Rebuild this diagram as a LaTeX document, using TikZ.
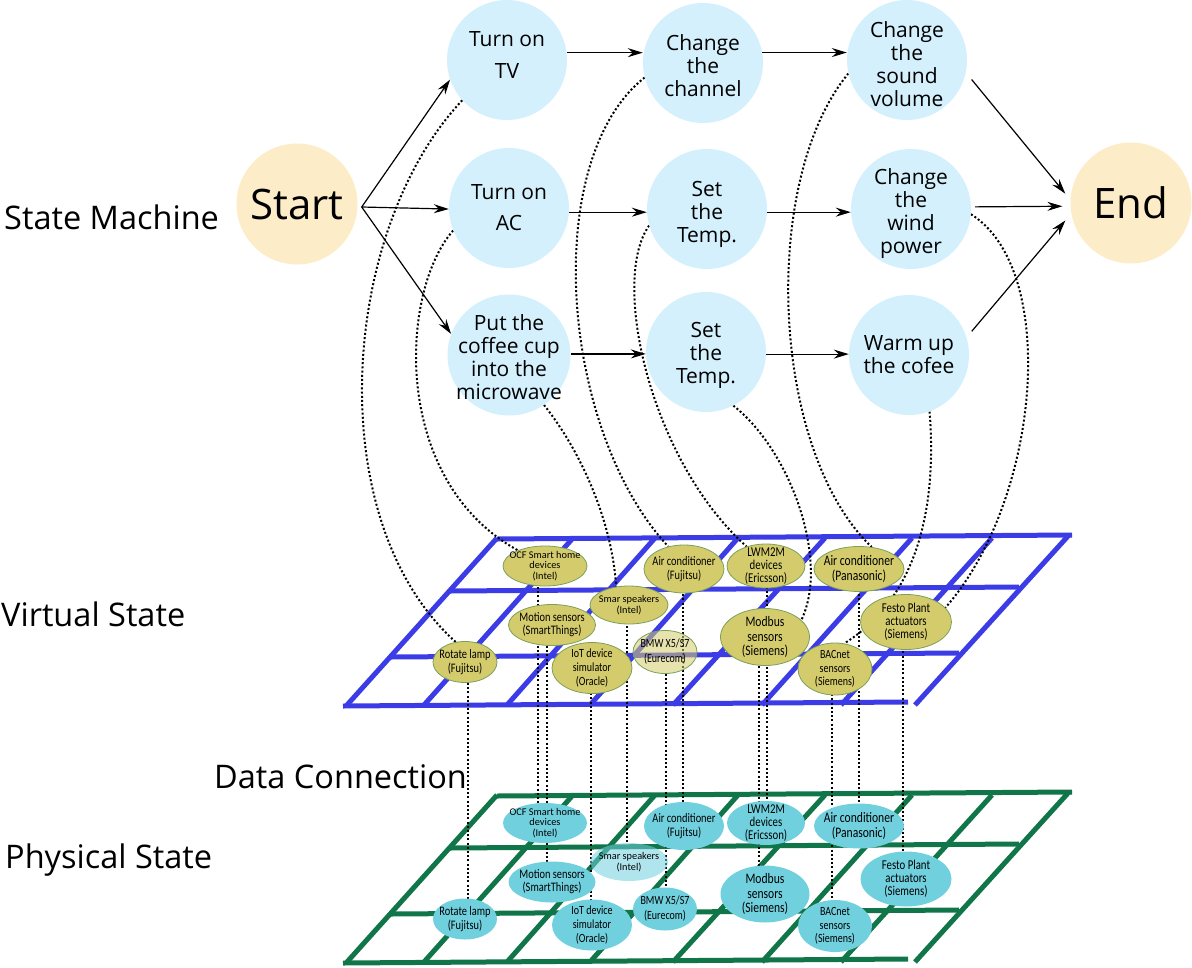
\documentclass[tikz,border=0pt]{standalone}
\usepackage{fontspec}
\setmainfont{Open Sans}
\newfontfamily\calib[FakeStretch=0.8]{Carlito}
\newfontfamily\calibn{Carlito}
\usetikzlibrary{shapes.geometric,arrows.meta,calc}
\definecolor{stfill}{HTML}{D4F0FC}
\definecolor{sefill}{HTML}{FDECC8}
\definecolor{gblue}{HTML}{3C3CE6}
\definecolor{ggreen}{HTML}{107548}
\definecolor{yfill}{HTML}{D4CC6C}
\definecolor{yline}{HTML}{7BA05A}
\definecolor{cfill}{HTML}{71D0DE}
\pgfdeclarelayer{gridlayer}
\pgfdeclarelayer{linelayer}
\pgfsetlayers{gridlayer,linelayer,main}
\tikzset{
  state/.style={circle, fill=stfill, minimum size=120pt, inner sep=0pt},
  stlab/.style={align=center, inner sep=0pt, font=\fontsize{21}{23}\selectfont},
  term/.style={circle, fill=sefill, minimum size=121pt, inner sep=0pt, font=\fontsize{42}{46}\selectfont},
  arr/.style={line width=1.2pt, -{Stealth[length=15pt,width=9pt,inset=5pt]}},
  dots/.style={line width=2pt, dash pattern=on 2pt off 2.2pt},
  lab/.style={anchor=base west, inner sep=0pt, font=\fontsize{32.5}{36}\selectfont},
  gridline/.style={line width=5pt},
  dev/.style={ellipse, inner sep=-14pt, align=center},
  vdev/.style={dev, fill=yfill, draw=yline, line width=0.8pt},
  pdev/.style={dev, fill=cfill},
  ghost/.style={fill opacity=0.55, text opacity=1},
  solid/.style={},
}
\newcommand\devfont[2]{\calib\fontsize{#1}{#2}\selectfont}
\newcommand\devfontn[2]{\calibn\fontsize{#1}{#2}\selectfont}
\newcommand\gridplane[2]{%
  \begin{scope}[shift={(0,#2)}, gridline, draw=#1]
    \draw (497,539) -- (1072,535);
    \draw (450,591) -- (1019,587);
    \draw (391,657) -- (959,653);
    \draw (343,706) -- (908,702);
    \foreach \a/\b in {497/347, 573/424, 655/507, 738/590, 825/673, 912/762, 992/841}
      \draw (\a,538) -- (\b,705);
    \draw (1069,535) -- (915,705);
  \end{scope}}
\newcommand\devlayer[5]{%
  \node[#3, minimum width=84pt, minimum height=40pt, font=\devfontn{10.3}{10.5}] (#1ocf) at (545,566+#2) {OCF Smart home\\devices\\(Intel)};
  \node[#3, minimum width=80pt, minimum height=48pt, font=\devfont{13}{14}] (#1acf) at (684,569+#2) {Air conditioner\\(Fujitsu)};
  \node[#3, minimum width=78pt, minimum height=44pt, font=\devfont{13.5}{13}] (#1lwm) at (766,566+#2) {LWM2M\\devices\\(Ericsson)};
  \node[#3, minimum width=90pt, minimum height=45pt, font=\devfont{14.5}{14.5}] (#1pan) at (859,569+#2) {Air conditioner\\(Panasonic)};
  \node[#3, #4, minimum width=78pt, minimum height=38pt, font=\devfontn{10.3}{10.7}] (#1smar) at (629,605+#2) {Smar speakers\\(Intel)};
  \node[#3, minimum width=87pt, minimum height=41pt, font=\devfont{13}{13}] (#1mot) at (552,625+#2) {Motion sensors\\(SmartThings)};
  \node[#3, minimum width=64pt, minimum height=41pt, font=\devfont{13}{13.7}] (#1rot) at (465,662+#2) {Rotate lamp\\(Fujitsu)};
  \node[#3, minimum width=80pt, minimum height=51pt, font=\devfont{12.5}{14}] (#1iot) at (592,668+#2) {IoT device\\simulator\\(Oracle)};
  \node[#3, #5, minimum width=64pt, minimum height=43pt, font=\devfont{12.5}{15}] (#1bmw) at (665,652+#2) {BMW X5/S7\\(Eurecom)};
  \node[#3, minimum width=89pt, minimum height=57pt, font=\devfont{14.5}{14.3}] (#1mod) at (765,637+#2) {Modbus\\sensors\\(Siemens)};
  \node[#3, minimum width=91pt, minimum height=55pt, font=\devfont{13.5}{13}] (#1fes) at (906,622+#2) {Festo Plant\\actuators\\(Siemens)};
  \node[#3, minimum width=74pt, minimum height=52pt, font=\devfont{12.5}{13.5}] (#1bac) at (835,669+#2) {BACnet\\sensors\\(Siemens)};
}
\begin{document}
\begin{tikzpicture}[x=1pt,y=-1pt]
\useasboundingbox (0,0) rectangle (1192,967);
% left labels
\node[lab] (lsm) at (4,229) {State Machine};
\node[lab] (lvs) at (1,626) {Virtual State};
\node[lab] (ldc) at (214,788) {Data Connection};
\node[lab] (lps) at (5,868) {Physical State};
% state machine
\node[term] (start) at (297,204) {Start};
\node[term] (end) at (1131,203) {End};
\node[state, label={[stlab, yshift=5pt]center:{Turn on\\[9pt]TV}}] (tv) at (507,60) {};
\node[state, label={[stlab, yshift=-3pt]center:{Change\\the\\channel}}] (ch) at (703,63) {};
\node[state, label={[stlab, yshift=-4pt]center:{Change\\the\\sound\\volume}}] (snd) at (907,60) {};
\node[state, label={[stlab]center:{Turn on\\[8pt]AC}}] (ac) at (509,208) {};
\node[state, label={[stlab, yshift=-5pt]center:{Set\\the\\Temp.}}] (st2) at (707,209) {};
\node[state, label={[stlab, yshift=-5pt]center:{Change\\the\\wind\\power}}] (wind) at (911,209) {};
\node[state, ellipse, minimum width=123pt, minimum height=121pt, label={[stlab, yshift=-2pt]center:{Put the\\coffee cup\\into the\\microwave}}] (cof) at (509,355) {};
\node[state, label={[stlab, yshift=-3pt]center:{Set\\the\\Temp.}}] (st3) at (706,352) {};
\node[state, label={[stlab]center:{Warm up\\the cofee}}] (warm) at (909,355) {};
% arrows
\draw[arr] ($(start.east)+(4,3)$) -- (tv.199);
\draw[arr] ($(start.east)+(4,3)$) -- (ac.181);
\draw[arr] ($(start.east)+(4,3)$) -- (cof.160);
\draw[arr] (tv.7) -- (tv.7 -| ch.west);
\draw[arr] (ch.10) -- (ch.10 -| snd.west);
\draw[arr] (ac.-4) -- (ac.-4 -| st2.west);
\draw[arr] (st2.-3) -- (st2.-3 -| wind.west);
\draw[arr] (cof.1) -- (cof.1 -| st3.west);
\draw[arr] (st3.-2) -- (st3.-2 -| warm.west);
\draw[arr, shorten <=9pt, shorten >=8pt] (snd.-12) -- (end.177);
\draw[arr, shorten <=4pt, shorten >=8pt] (wind.2) -- (end.183);
\draw[arr, shorten <=8pt, shorten >=9pt] (warm.17) -- (end.190);
% device layers
\devlayer{v}{0}{vdev}{solid}{ghost}
\devlayer{p}{257}{pdev}{ghost}{solid}
% grids
\begin{pgfonlayer}{gridlayer}
  \gridplane{gblue}{0}
  \gridplane{ggreen}{257}
\end{pgfonlayer}
% dotted connectors
\begin{pgfonlayer}{linelayer}
  \draw[dots] (tv.222) .. controls (340,230) and (320,520) .. (vrot.115);
  \draw[dots] (ac.202) .. controls (400,290) and (390,480) .. (vocf.150);
  \draw[dots] (ch.194) .. controls (540,160) and (560,430) .. (vacf.125);
  \draw[dots] (st2.196) .. controls (610,280) and (650,460) .. (vlwm.135);
  \draw[dots] (cof.305) .. controls (580,450) and (612,520) .. (vsmar.125);
  \draw[dots] (snd.193) .. controls (760,180) and (770,450) .. (vpan.60);
  \draw[dots] (st3.297) .. controls (790,450) and (830,560) .. (vmod.25);
  \draw[dots] (wind.-5) .. controls (1060,270) and (1040,500) .. (vfes.20);
  \draw[dots] (warm.290) .. controls (935,480) and (930,590) .. (vbac.70);
  \foreach \n/\d in {rot/3, ocf/-7, mot/-5, iot/-1, acf/-1, mod/-6, lwm/1, bac/-3, pan/0, fes/-3}
    \draw[dots] ($(v\n.center)+(\d,0)$) -- ($(p\n.center)+(\d,0)$);
  \draw[dots] ($(vsmar.center)+(-2,0)$) -- ($(psmar.north)+(-2,0)$);
  \draw[dots] ($(vbmw.south)+(1,0)$) -- ($(pbmw.center)+(1,0)$);
\end{pgfonlayer}
\end{tikzpicture}
\end{document}
